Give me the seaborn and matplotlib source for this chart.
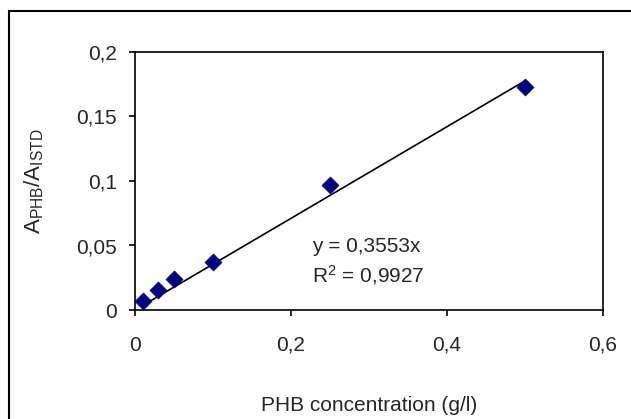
import matplotlib
matplotlib.use("Agg")
import matplotlib.pyplot as plt
from matplotlib.patches import Rectangle
import seaborn as sns
import numpy as np
import pandas as pd

# data
conc = [0.01, 0.03, 0.05, 0.10, 0.25, 0.50]
ratio = [0.007, 0.0155, 0.024, 0.037, 0.097, 0.173]
slope = 0.3553
r2_text = "0,9927"
x_ticks = [0, 0.2, 0.4, 0.6]
x_tick_labels = ["0", "0,2", "0,4", "0,6"]
y_ticks = [0, 0.05, 0.1, 0.15, 0.2]
y_tick_labels = ["0", "0,05", "0,1", "0,15", "0,2"]

sns.set_style("white")
plt.rcParams['font.family'] = ['Liberation Sans', 'DejaVu Sans']
plt.rcParams['mathtext.fontset'] = 'custom'
plt.rcParams['mathtext.rm'] = 'Liberation Sans'
plt.rcParams['mathtext.it'] = 'Liberation Sans'

W, H = 631, 419
fig = plt.figure(figsize=(W / 100, H / 100), dpi=100)
fig.patch.set_facecolor('white')
ax = fig.add_axes([135 / W, (H - 310) / H, 468 / W, 258 / H])

df = pd.DataFrame({"conc": conc, "ratio": ratio})
xs = np.array([min(conc) * 0.9, max(conc)])
fit = pd.DataFrame({"x": xs, "y": slope * xs})
sns.lineplot(data=fit, x="x", y="y", ax=ax, color="black", linewidth=1.2)
sns.scatterplot(data=df, x="conc", y="ratio", ax=ax, marker="D", s=75,
                color="#00007f", edgecolor="#00007f", linewidth=0.5, zorder=3)

FS = 15
ax.set_xlim(0, 0.6)
ax.set_ylim(0, 0.2)
ax.set_xticks(x_ticks)
ax.set_xticklabels(x_tick_labels)
ax.set_yticks(y_ticks)
ax.set_yticklabels(y_tick_labels)
ax.tick_params(axis='both', which='major', direction='out', length=4.5, width=1.2,
               color='black', labelsize=FS, bottom=True, left=True)
ax.tick_params(axis='x', pad=14)
ax.tick_params(axis='y', pad=8.5)
for s in ax.spines.values():
    s.set_color('black')
    s.set_linewidth(1.2)
ax.grid(False)

ax.set_xlabel("PHB concentration (g/l)", fontsize=FS, labelpad=30)
ax.set_ylabel(r"A$_{\mathrm{PHB}}$/A$_{\mathrm{ISTD}}$", fontsize=16, labelpad=21.5)

ax.text(0.227, 0.049, "y = 0,3553x", fontsize=FS, va='center', ha='left')
ax.text(0.227, 0.027, r"R$^{2}$ = " + r2_text, fontsize=FS, va='center', ha='left')

fig.patches.append(Rectangle((9 / W, -0.1), 1.2, (H - 11) / H + 0.1,
                             transform=fig.transFigure, fill=False,
                             edgecolor='black', linewidth=1.5))

fig.savefig("out.png", dpi=100)
